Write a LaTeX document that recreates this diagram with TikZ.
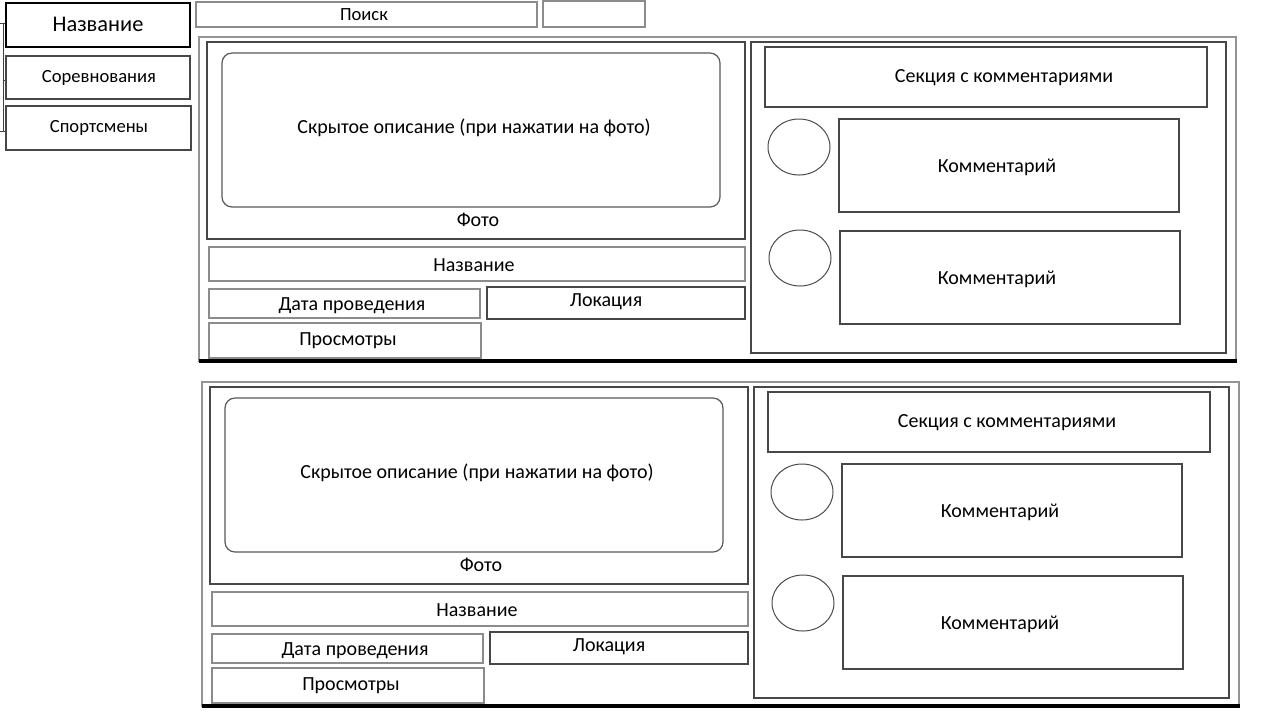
\documentclass[tikz,border=0pt]{standalone}
\usepackage{fontspec}
\setmainfont{Carlito}
\usetikzlibrary{fit,shapes.geometric}
\begin{document}
\begin{tikzpicture}[x=0.5pt,y=-0.5pt,
  box/.style={draw=black!72, line width=0.6pt, inner sep=0pt},
  lbox/.style={box, draw=black!45},
  frame/.style={draw=black!42, line width=0.7pt, inner sep=0pt},
  panel/.style={draw=black!72, line width=0.6pt, inner sep=0pt},
  photo/.style={draw=black!65, line width=0.6pt, rounded corners=5pt, inner sep=0pt},
  avatar/.style={draw=black!70, line width=0.5pt, ellipse, inner sep=0pt, minimum width=31pt, minimum height=28pt},
  txt/.style={inner sep=0pt, font=\fontsize{10}{12}\selectfont},
  stxt/.style={inner sep=0pt, font=\fontsize{9.3}{11}\selectfont},
  bottomline/.style={line width=1.6pt, black},
  tick/.style={black!75, line width=0.5pt}]
\fill[white] (0,0) rectangle (1280,720);
\useasboundingbox (0,0) rectangle (1280,720);
% top-left menu
\node[draw=black, line width=1.1pt, inner sep=0pt, fit={(6,3) (190,47)}] (title) {};
\node[inner sep=0pt, font=\fontsize{11.2}{13}\selectfont] (titleT) at (98,24) {Название};
\node[box, fit={(6,56) (190,99)}] (comp) {};
\node[stxt] (compT) at (99,78) {Соревнования};
\node[box, fit={(6,106) (191,150)}] (ath) {};
\node[stxt] (athT) at (99,128) {Спортсмены};
\coordinate (br1) at (0,23);
\coordinate (br2) at (0,131);
\coordinate (brm) at (3,80);
\draw[tick] (br1) -- (title.west |- br1);
\draw[tick] (3,23) -- (3,131);
\draw[tick] (brm) -- (comp.west |- brm);
\draw[tick] (br2) -- (ath.west |- br2);
% search
\node[lbox, fit={(196,2) (537,27)}] (search) {};
\node[stxt] (searchT) at (364,15) {Поиск};
\node[lbox, fit={(543,1) (645,27)}] (btn) {};
% two post blocks
\foreach \k/\dx/\dy in {A/0/0, B/3/345} {
\begin{scope}[shift={(\dx,\dy)}]
  \node[frame, fit={(199,37) (1236,361)}] (frame\k) {};
  \draw[bottomline] (199,361) -- (1237,361);
  \node[panel, fit={(207,42) (745,239)}] (ph\k) {};
  \node[photo, fit={(222,53) (720,207)}] (hid\k) {};
  \node[txt] (hidT\k) at (474,128) {Скрытое описание (при нажатии на фото)};
  \node[txt] (fo\k) at (478,220) {Фото};
  \node[lbox, fit={(209,247) (745,281)}] (nm\k) {};
  \node[txt] (nmT\k) at (474,265) {Название};
  \node[lbox, fit={(209,289) (480,318)}] (dt\k) {};
  \node[txt] (dtT\k) at (352,306) {Дата проведения};
  \node[box, fit={(487,287) (745,319)}] (loc\k) {};
  \node[txt] (locT\k) at (606,302) {Локация};
  \node[lbox, fit={(209,323) (481,358)}] (vw\k) {};
  \node[txt] (vwT\k) at (348,341) {Просмотры};
  \node[panel, fit={(751,42) (1226,353)}] (cp\k) {};
  \node[box, fit={(765,47) (1207,107)}] (sec\k) {};
  \node[txt] (secT\k) at (1004,78) {Секция с комментариями};
  \node[avatar] (av1\k) at (799,147) {};
  \node[box, fit={(839,119) (1179,212)}] (cm1\k) {};
  \node[txt] (cm1T\k) at (997,167) {Комментарий};
  \node[avatar] (av2\k) at (800,258) {};
  \node[box, fit={(840,231) (1180,324)}] (cm2\k) {};
  \node[txt] (cm2T\k) at (997,279) {Комментарий};
\end{scope}
}
\end{tikzpicture}
\end{document}
